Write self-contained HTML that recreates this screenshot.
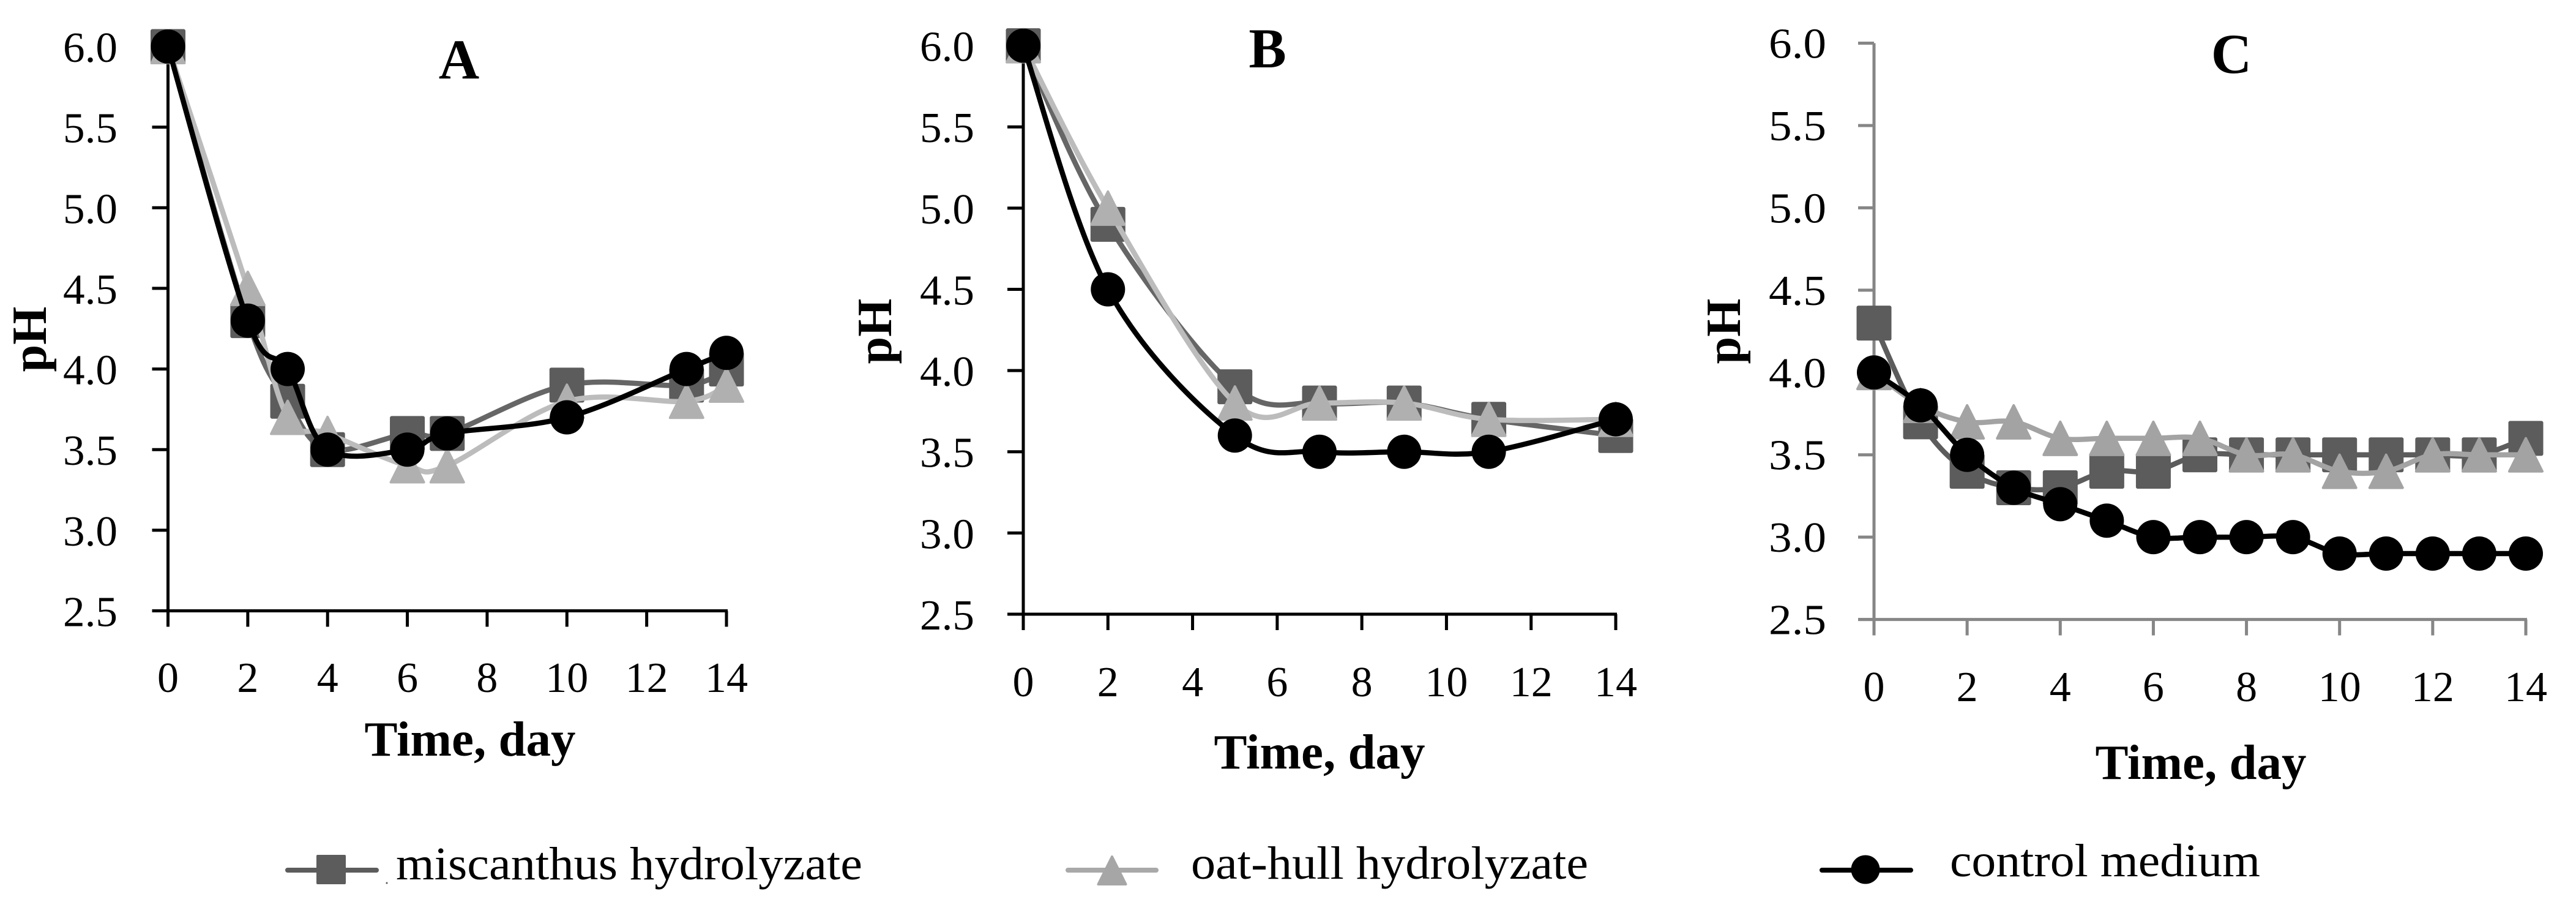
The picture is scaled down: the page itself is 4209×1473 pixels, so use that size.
<!DOCTYPE html>
<html lang="en">
<head>
<meta charset="utf-8">
<title>pH over time</title>
<style>
html,body{margin:0;padding:0;background:#fff;}
svg{display:block;}
text{font-family:"Liberation Serif",serif;fill:#000;}
</style>
</head>
<body>
<svg id="chart" xmlns="http://www.w3.org/2000/svg" width="4209" height="1473" viewBox="0 0 4209 1473">
<rect width="4209" height="1473" fill="#fff"/>
<g>
  <g>
    <line x1="470" y1="1421" x2="615" y2="1421" stroke="#5c5c5c" stroke-width="8" stroke-linecap="round"/>
    <rect x="517" y="1396" width="48" height="48" rx="2" fill="#5c5c5c"/>
    <circle cx="632" cy="1442" r="1.5" fill="#555"/>
    <text x="647" y="1436" font-size="76" textLength="762" lengthAdjust="spacingAndGlyphs">miscanthus hydrolyzate</text>
  </g>
  <g>
    <line x1="1745" y1="1421" x2="1889" y2="1421" stroke="#a9a9a9" stroke-width="8" stroke-linecap="round"/>
    <polygon points="1817,1399 1839.5,1444 1794.5,1444" fill="#a6a6a6" stroke="#a6a6a6" stroke-width="4" stroke-linejoin="round"/>
    <text x="1946" y="1435" font-size="76" textLength="649" lengthAdjust="spacingAndGlyphs">oat-hull hydrolyzate</text>
  </g>
  <g>
    <line x1="2977" y1="1421" x2="3122" y2="1421" stroke="#000" stroke-width="8" stroke-linecap="round"/>
    <circle cx="3048" cy="1420" r="23.5" fill="#000"/>
    <text x="3186" y="1431" font-size="76" textLength="507" lengthAdjust="spacingAndGlyphs">control medium</text>
  </g>
</g>
<script>
var yTickValues = [2.5, 3.0, 3.5, 4.0, 4.5, 5.0, 5.5, 6.0];
var yTickLabels = ["2.5", "3.0", "3.5", "4.0", "4.5", "5.0", "5.5", "6.0"];
var xTickValues = [0, 2, 4, 6, 8, 10, 12, 14];
var xTickLabels = ["0", "2", "4", "6", "8", "10", "12", "14"];

var daysA = [0, 2, 3, 4, 6, 7, 10, 13, 14];
var miscanthusA = [6.0, 4.3, 3.8, 3.5, 3.6, 3.6, 3.9, 3.9, 4.0];
var oatHullA = [6.0, 4.5, 3.7, 3.6, 3.4, 3.4, 3.8, 3.8, 3.9];
var controlA = [6.0, 4.3, 4.0, 3.5, 3.5, 3.6, 3.7, 4.0, 4.1];

var daysB = [0, 2, 5, 7, 9, 11, 14];
var miscanthusB = [6.0, 4.9, 3.9, 3.8, 3.8, 3.7, 3.6];
var oatHullB = [6.0, 5.0, 3.8, 3.8, 3.8, 3.7, 3.7];
var controlB = [6.0, 4.5, 3.6, 3.5, 3.5, 3.5, 3.7];

var daysC = [0, 1, 2, 3, 4, 5, 6, 7, 8, 9, 10, 11, 12, 13, 14];
var miscanthusC = [4.3, 3.7, 3.4, 3.3, 3.3, 3.4, 3.4, 3.5, 3.5, 3.5, 3.5, 3.5, 3.5, 3.5, 3.6];
var oatHullC = [4.0, 3.8, 3.7, 3.7, 3.6, 3.6, 3.6, 3.6, 3.5, 3.5, 3.4, 3.4, 3.5, 3.5, 3.5];
var controlC = [4.0, 3.8, 3.5, 3.3, 3.2, 3.1, 3.0, 3.0, 3.0, 3.0, 2.9, 2.9, 2.9, 2.9, 2.9];

var NS = "http://www.w3.org/2000/svg";
var root = document.getElementById("chart");

function mk(parent, tag, attrs, content) {
  var el = document.createElementNS(NS, tag);
  for (var k in attrs) { el.setAttribute(k, attrs[k]); }
  if (content !== undefined) { el.textContent = content; }
  parent.appendChild(el);
  return el;
}

function smoothPath(days, values, sx, sy) {
  var pts = days.map(function (d, i) { return [sx(d), sy(values[i])]; });
  var d = "M" + pts[0][0].toFixed(1) + " " + pts[0][1].toFixed(1);
  for (var i = 0; i < pts.length - 1; i++) {
    var p0 = pts[Math.max(i - 1, 0)], p1 = pts[i], p2 = pts[i + 1], p3 = pts[Math.min(i + 2, pts.length - 1)];
    var c1x = p1[0] + (p2[0] - p0[0]) / 6, c1y = p1[1] + (p2[1] - p0[1]) / 6;
    var c2x = p2[0] - (p3[0] - p1[0]) / 6, c2y = p2[1] - (p3[1] - p1[1]) / 6;
    d += "C" + c1x.toFixed(1) + " " + c1y.toFixed(1) + " " + c2x.toFixed(1) + " " + c2y.toFixed(1) + " " + p2[0].toFixed(1) + " " + p2[1].toFixed(1);
  }
  return d;
}

function drawSeries(g, name, kind, color, lineColor, days, values, sx, sy) {
  var s = mk(g, "g", {});
  
  
  var line = mk(s, "path", { d: smoothPath(days, values, sx, sy), fill: "none", stroke: lineColor, "stroke-width": 8.5 });
  
  
  days.forEach(function (day, i) {
    var x = sx(day), y = sy(values[i]), m;
    if (kind === "square") {
      m = mk(s, "rect", { x: x - 28.5, y: y - 28.5, width: 57, height: 57, rx: 3, fill: color });
    } else if (kind === "triangle") {
      m = mk(s, "polygon", { points: x + "," + (y - 27) + " " + (x + 27) + "," + (y + 27) + " " + (x - 27) + "," + (y + 27), fill: color, stroke: color, "stroke-width": 4, "stroke-linejoin": "round" });
    } else {
      m = mk(s, "circle", { cx: x, cy: y, r: 28, fill: color });
    }
    
    
  });
}

function drawPanel(cfg) {
  var g = mk(root, "g", {});
  
  
  var sx = function (v) { return cfg.x0 + (v - 0) / 14 * (cfg.x14 - cfg.x0); };
  var sy = function (v) { return cfg.y25 + (v - 2.5) / 3.5 * (cfg.y6 - cfg.y25); };

  var yAxis = mk(g, "line", { x1: sx(0), y1: sy(6), x2: sx(0), y2: sy(2.5), stroke: cfg.axis, "stroke-width": 5 });
  
  
  var xAxis = mk(g, "line", { x1: sx(0) - 26, y1: sy(2.5), x2: sx(14) + 2, y2: sy(2.5), stroke: cfg.axis, "stroke-width": 5 });
  
  

  yTickValues.forEach(function (v, i) {
    var t = mk(g, "line", { x1: sx(0) - 26, y1: sy(v), x2: sx(0), y2: sy(v), stroke: cfg.axis, "stroke-width": 5 });
    
    
    var l = mk(g, "text", { x: cfg.yLabelX, y: sy(v) + cfg.yLabelDy, "font-size": 70, "text-anchor": "end", textLength: cfg.yLabelW, lengthAdjust: "spacingAndGlyphs" }, yTickLabels[i]);
    
    
  });
  xTickValues.forEach(function (v, i) {
    var t = mk(g, "line", { x1: sx(v), y1: sy(2.5), x2: sx(v), y2: sy(2.5) + 26, stroke: cfg.axis, "stroke-width": 5 });
    
    
    var l = mk(g, "text", { x: sx(v), y: cfg.xLabelY, "font-size": 70, "text-anchor": "middle" }, xTickLabels[i]);
    
    
  });

  var xt = mk(g, "text", { x: cfg.xTitleX, y: cfg.xTitleY, "font-size": 81, "font-weight": "bold", "text-anchor": "middle" }, "Time, day");
  
  
  var yt = mk(g, "text", { transform: "translate(" + cfg.yTitleX + "," + cfg.yTitleY + ") rotate(-90)", "font-size": 80, "font-weight": "bold", "text-anchor": "middle" }, "pH");
  
  
  var pl = mk(g, "text", { x: cfg.letterX, y: cfg.letterY, "font-size": 92, "font-weight": "bold", "text-anchor": "middle" }, cfg.id);
  
  

  drawSeries(g, "miscanthus", "square", "#5c5c5c", cfg.mLine, cfg.days, cfg.miscanthus, sx, sy);
  drawSeries(g, "oat-hull", "triangle", cfg.oMark, cfg.oLine, cfg.days, cfg.oatHull, sx, sy);
  drawSeries(g, "control", "circle", "#000000", "#000000", cfg.days, cfg.control, sx, sy);
}

drawPanel({ id: "A", days: daysA, miscanthus: miscanthusA, oatHull: oatHullA, control: controlA,
  x0: 274.5, x14: 1187, y6: 76, y25: 997.5, axis: "#000", mLine: "#666666", oMark: "#b0b0b0", oLine: "#bcbcbc",
  yLabelX: 192, yLabelW: 89, yLabelDy: 25, xLabelY: 1130, xTitleX: 768, xTitleY: 1234, yTitleX: 75, yTitleY: 554, letterX: 750, letterY: 128 });
drawPanel({ id: "B", days: daysB, miscanthus: miscanthusB, oatHull: oatHullB, control: controlB,
  x0: 1672, x14: 2640, y6: 74.6, y25: 1003, axis: "#000", mLine: "#666666", oMark: "#b0b0b0", oLine: "#bcbcbc",
  yLabelX: 1592, yLabelW: 89, yLabelDy: 25, xLabelY: 1137, xTitleX: 2156, xTitleY: 1255, yTitleX: 1456, yTitleY: 541, letterX: 2071, letterY: 110 });
drawPanel({ id: "C", days: daysC, miscanthus: miscanthusC, oatHull: oatHullC, control: controlC,
  x0: 3062, x14: 4127, y6: 70.5, y25: 1011.6, axis: "#868686", mLine: "#5c5c5c", oMark: "#a3a3a3", oLine: "#a3a3a3",
  yLabelX: 2984, yLabelW: 94, yLabelDy: 24, xLabelY: 1145, xTitleX: 3596, xTitleY: 1272, yTitleX: 2843, yTitleY: 541, letterX: 3646, letterY: 119 });
</script>
</svg>
</body>
</html>
